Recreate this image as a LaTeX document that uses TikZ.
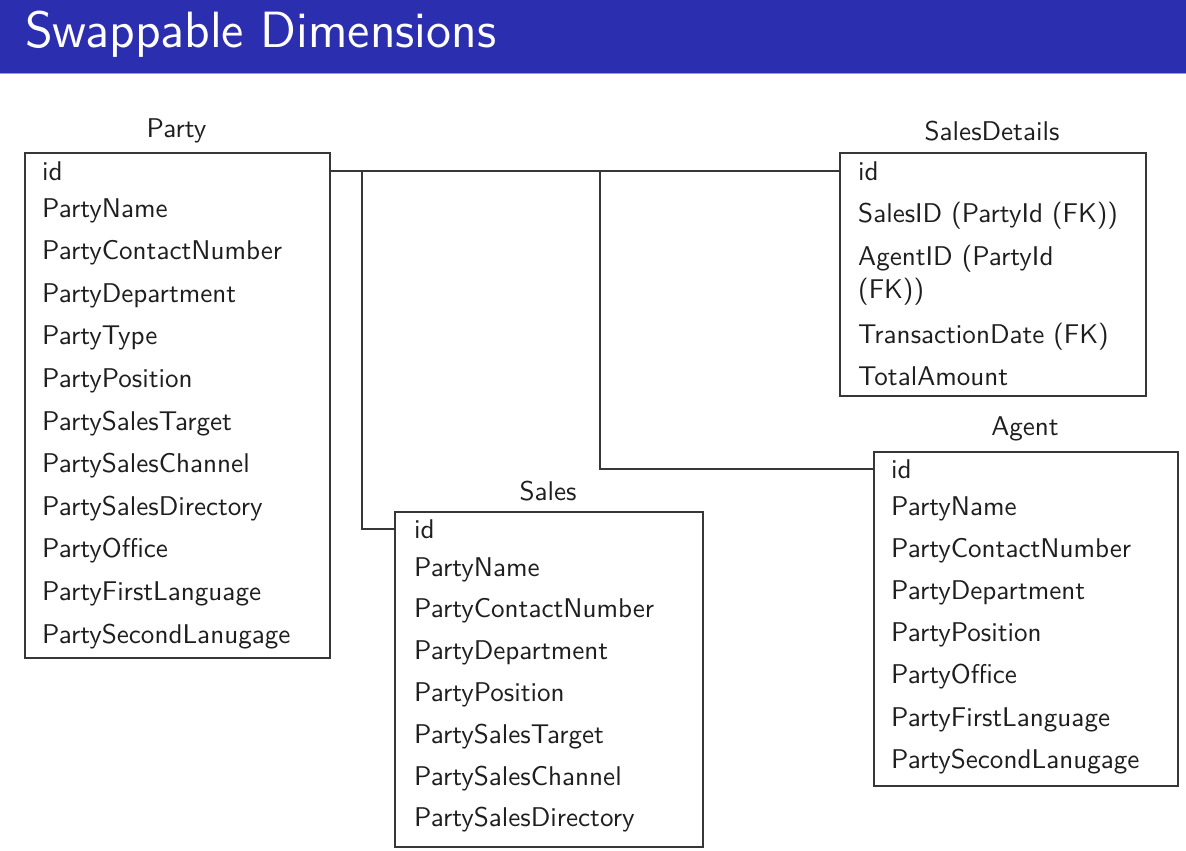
\documentclass[tikz,border=0pt]{standalone}
\usepackage{fontspec}
\newfontfamily\fieldface{lmsans10-regular.otf}
\newfontfamily\headface{lmsans12-regular.otf}
\definecolor{headblue}{RGB}{44,46,176}
\definecolor{headline}{RGB}{150,152,225}
\definecolor{ink}{RGB}{30,30,30}
\definecolor{frame}{RGB}{55,55,55}
\newcommand\fieldfont{\fieldface\fontsize{27.1}{33}\selectfont}
\newcommand\headfont{\headface\fontsize{51}{60}\selectfont}
\begin{document}
\begin{tikzpicture}[x=1pt,y=-1pt,
  field/.style={anchor=base west, inner sep=0pt, font=\fieldfont, text=ink},
  caption/.style={anchor=base, inner sep=0pt, font=\fieldfont, text=ink},
  tbl/.style={draw=frame, line width=2pt, anchor=north west, inner sep=0pt},
  link/.style={draw=frame, line width=2pt}]
\useasboundingbox (0,0) rectangle (1186,851);

% title bar
\node[fill=headblue, minimum width=1186, minimum height=73, anchor=north west, inner sep=0pt] (header) at (0,0) {};
\draw[headline, line width=1.5pt] (header.south west) -- (header.south east);
\node[anchor=base west, inner sep=0pt, text=white, font=\headfont] (title) at (25,48) {Swappable Dimensions};

% Party table
\node[tbl, minimum width=305, minimum height=505] (party) at (24,152) {};
\node[caption] (party-title) at (176.5,137) {Party};
\foreach \t [count=\i] in {id,PartyName,PartyContactNumber,PartyDepartment,PartyType,PartyPosition,PartySalesTarget,PartySalesChannel,PartySalesDirectory,PartyOffice,PartyFirstLanguage,PartySecondLanugage}{
  \pgfmathsetmacro\yy{\i==1 ? 180 : 217+(\i-2)*42.6}
  \node[field] (party-\i) at (42,\yy) {\t};
}

% SalesDetails table
\node[tbl, minimum width=306, minimum height=243] (sd) at (839,152) {};
\node[caption] (sd-title) at (992,140) {SalesDetails};
\node[field] (sd-1) at (858,180) {id};
\node[field] (sd-2) at (858,222) {SalesID (PartyId (FK))};
\node[field] (sd-3) at (858,265) {AgentID (PartyId};
\node[field] (sd-3b) at (858,298) {(FK))};
\node[field] (sd-4) at (858,343) {TransactionDate (FK)};
\node[field] (sd-5) at (858,385) {TotalAmount};

% Sales table
\node[tbl, minimum width=308, minimum height=335] (sales) at (394,511) {};
\node[caption] (sales-title) at (548,500) {Sales};
\foreach \t [count=\i] in {id,PartyName,PartyContactNumber,PartyDepartment,PartyPosition,PartySalesTarget,PartySalesChannel,PartySalesDirectory}{
  \pgfmathsetmacro\yy{\i==1 ? 538 : 576+(\i-2)*41.8}
  \node[field] (sales-\i) at (414,\yy) {\t};
}

% Agent table
\node[tbl, minimum width=304, minimum height=334] (agent) at (873,451) {};
\node[caption] (agent-title) at (1025,435) {Agent};
\foreach \t [count=\i] in {id,PartyName,PartyContactNumber,PartyDepartment,PartyPosition,PartyOffice,PartyFirstLanguage,PartySecondLanugage}{
  \pgfmathsetmacro\yy{\i==1 ? 478 : 515+(\i-2)*42.2}
  \node[field] (agent-\i) at (891,\yy) {\t};
}

% connectors between the tables
\coordinate (j1) at (362,171);
\coordinate (j2) at (600,171);
\draw[link] (party.east |- j1) -- (sd.west |- j1);
\draw[link] (j1) |- (sales.west |- sales-1);
\draw[link] (j2) |- (agent.west |- agent-1);
\end{tikzpicture}
\end{document}
